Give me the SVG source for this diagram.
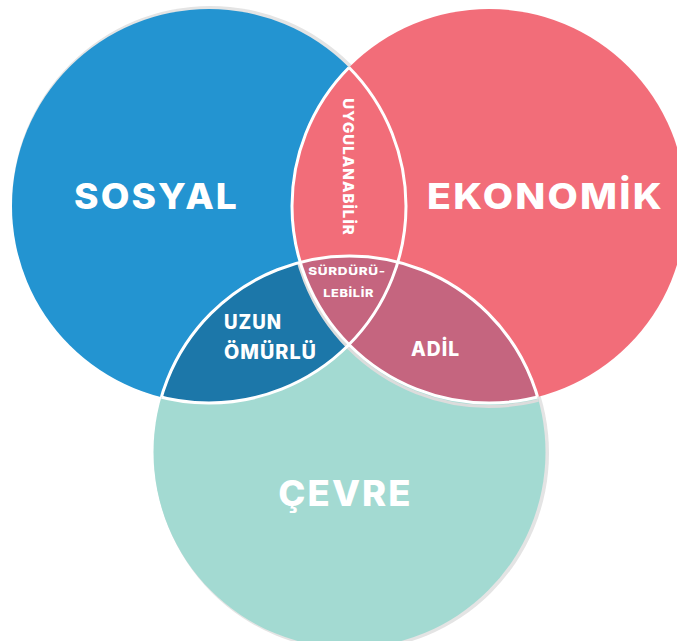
<svg xmlns="http://www.w3.org/2000/svg" width="677" height="641" viewBox="0 0 677 641">
<style>
.lbl{font-family:Inter,"Open Sans","Liberation Sans",sans-serif;font-weight:800;fill:#ffffff;}
.big{font-size:35px;letter-spacing:2px;}
.mid{font-size:19.5px;letter-spacing:1px;}
.small{font-size:10.5px;letter-spacing:0.5px;}
.edge{fill:none;stroke:#ffffff;stroke-width:3;}
</style>
<defs>
<clipPath id="cBlue"><circle cx="209" cy="206" r="197"/></clipPath>
<clipPath id="cRed"><circle cx="489" cy="206" r="197"/></clipPath>
<clipPath id="cBlueRed"><circle cx="209" cy="206" r="197"/><circle cx="489" cy="206" r="197"/></clipPath>
<clipPath id="cRedTeal"><circle cx="489" cy="206" r="197"/><circle cx="349.5" cy="452" r="196"/></clipPath>
<clipPath id="cBlueTeal"><circle cx="209" cy="206" r="197"/><circle cx="349.5" cy="452" r="196"/></clipPath>
<mask id="mTealNoRed" maskUnits="userSpaceOnUse" x="0" y="0" width="677" height="641">
<circle cx="349.5" cy="452" r="196" fill="#fff"/>
<circle cx="489" cy="206" r="197" fill="#000"/>
</mask>
</defs>
<g id="shadows">
<circle cx="210.5" cy="204.5" r="198.5" fill="#e4e4e4"/>
<circle cx="351.5" cy="453" r="197.5" fill="#e4e4e4"/>
</g>
<g id="sosyal">
<circle cx="209" cy="206" r="197" fill="#2394d1"/>
<text class="lbl big" x="74" y="209" textLength="165" lengthAdjust="spacingAndGlyphs">SOSYAL</text>
</g>
<g id="ekonomik">
<circle cx="489" cy="206" r="197" fill="#f26d79"/>
<text class="lbl big" x="427" y="209.3" textLength="237" lengthAdjust="spacingAndGlyphs">EKONOMİK</text>
</g>
<g id="cevre">
<circle cx="349.5" cy="452" r="196" fill="#a3dad2"/>
<text class="lbl big" x="278.3" y="505.7" textLength="134.4" lengthAdjust="spacingAndGlyphs">ÇEVRE</text>
</g>
<g id="uzun-omurlu">
<circle cx="349.5" cy="452" r="196" fill="#1c77a9" clip-path="url(#cBlue)"/>
<text class="lbl mid" x="224" y="329.3" textLength="58" lengthAdjust="spacingAndGlyphs">UZUN</text>
<text class="lbl mid" x="224" y="359.3" textLength="93" lengthAdjust="spacingAndGlyphs">ÖMÜRLÜ</text>
</g>
<g id="adil">
<circle cx="349.5" cy="452" r="196" fill="#c5657f" clip-path="url(#cRed)"/>
<circle cx="489" cy="208.5" r="198" fill="none" stroke="#dcdcdc" stroke-width="3" mask="url(#mTealNoRed)"/>
<text class="lbl mid" x="411" y="355.7" textLength="49" lengthAdjust="spacingAndGlyphs">ADİL</text>
</g>
<g id="connectors">
<circle class="edge" cx="209" cy="206" r="197" clip-path="url(#cRedTeal)"/>
<circle class="edge" cx="489" cy="206" r="197" clip-path="url(#cBlueTeal)"/>
<circle class="edge" cx="349.5" cy="452" r="196" clip-path="url(#cBlueRed)"/>
</g>
<g id="uygulanabilir">
<text class="lbl" style="font-size:15px;letter-spacing:1px" transform="translate(342.5,98.3) rotate(90)" x="0" y="0" textLength="137.4" lengthAdjust="spacingAndGlyphs">UYGULANABİLİR</text>
</g>
<g id="surdurulebilir">
<text class="lbl small" x="308.3" y="275" textLength="77.4" lengthAdjust="spacingAndGlyphs">SÜRDÜRÜ-</text>
<text class="lbl small" x="323.3" y="297.3" textLength="50.7" lengthAdjust="spacingAndGlyphs">LEBİLİR</text>
</g>
</svg>
